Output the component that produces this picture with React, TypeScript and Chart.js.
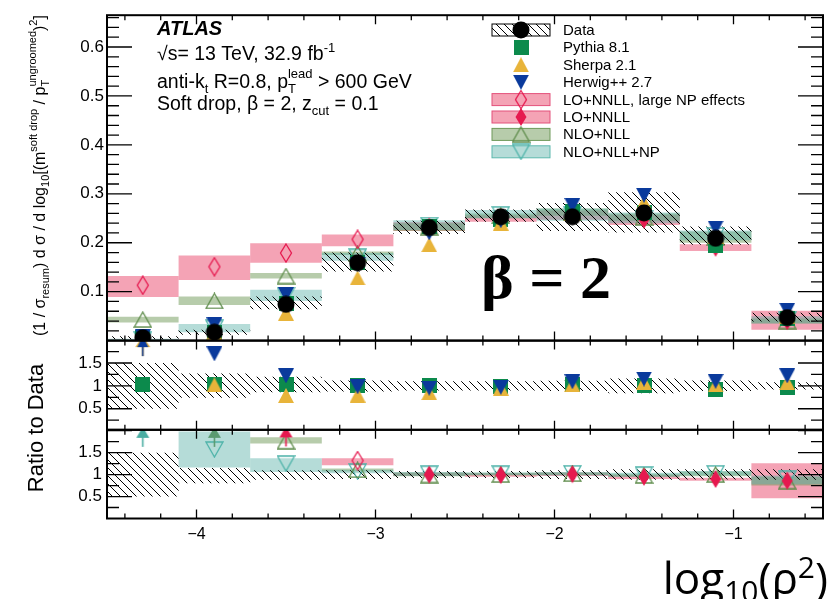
import React, { useEffect, useRef } from 'react';
import { Chart, registerables } from 'chart.js';

Chart.register(...registerables);

// ---------- data ----------
const binCenters = [-4.3, -3.9, -3.5, -3.1, -2.7, -2.3, -1.9, -1.5, -1.1, -0.7];
const xTickValues = [-4, -3, -2, -1];
const xTickLabels = ['\u22124', '\u22123', '\u22122', '\u22121'];
const topTickValues = [0.1, 0.2, 0.3, 0.4, 0.5, 0.6];
const topTickLabels = ['0.1', '0.2', '0.3', '0.4', '0.5', '0.6'];
const ratioTickValues = [0.5, 1, 1.5];
const ratioTickLabels = ['0.5', '1', '1.5'];

// top panel: normalised cross-section
const dataValues = [0.006, 0.017, 0.074, 0.159, 0.231, 0.253, 0.253, 0.261, 0.209, 0.047];
const dataBandLow = [0.003, 0.012, 0.064, 0.141, 0.218, 0.243, 0.224, 0.221, 0.196, 0.039];
const dataBandHigh = [0.009, 0.022, 0.09, 0.18, 0.245, 0.268, 0.281, 0.303, 0.233, 0.057];
const pythiaValues = [0.006, 0.017, 0.075, 0.159, 0.233, 0.248, 0.263, 0.261, 0.194, 0.045];
const sherpaValues = [0.008, 0.017, 0.056, 0.128, 0.196, 0.24, 0.26, 0.282, 0.213, 0.05];
const herwigValues = [0.008, 0.032, 0.094, 0.156, 0.22, 0.245, 0.276, 0.297, 0.23, 0.062];

const loNPValues = [0.113, 0.151, 0.179, 0.207, null, null, null, null, null, null];
const loNPLow = [0.089, 0.124, 0.159, 0.193, null, null, null, null, null, null];
const loNPHigh = [0.132, 0.174, 0.199, 0.217, null, null, null, null, null, null];
const loValues = [null, null, null, null, 0.233, 0.249, 0.256, 0.247, 0.19, 0.04];
const loLow = [null, null, null, null, 0.224, 0.243, 0.247, 0.236, 0.183, 0.022];
const loHigh = [null, null, null, null, 0.242, 0.256, 0.266, 0.257, 0.197, 0.061];
const nloValues = [0.043, 0.081, 0.132, 0.178, 0.232, 0.255, 0.262, 0.252, 0.211, 0.04];
const nloLow = [0.037, 0.073, 0.127, 0.175, 0.224, 0.25, 0.255, 0.245, 0.2, 0.035];
const nloHigh = [0.049, 0.09, 0.138, 0.182, 0.24, 0.26, 0.27, 0.26, 0.223, 0.045];
const nloNPValues = [0.002, 0.026, 0.093, 0.171, 0.236, 0.258, 0.258, 0.25, 0.215, 0.043];
const nloNPLow = [0.0, 0.017, 0.081, 0.163, 0.226, 0.25, 0.245, 0.24, 0.205, 0.035];
const nloNPHigh = [0.004, 0.034, 0.104, 0.179, 0.246, 0.267, 0.27, 0.262, 0.225, 0.05];

// middle panel: MC / data
const dataRatioLowMC = [0.5, 0.74, 0.86, 0.88, 0.9, 0.9, 0.89, 0.84, 0.89, 0.92];
const dataRatioHighMC = [1.5, 1.27, 1.2, 1.12, 1.1, 1.1, 1.11, 1.16, 1.12, 1.08];
const pythiaRatio = [1.03, 1.02, 1.02, 1.0, 1.01, 0.98, 1.04, 1.0, 0.93, 0.96];
const sherpaRatio = [1.87, 1.02, 0.79, 0.8, 0.85, 0.95, 1.03, 1.08, 1.02, 1.07];
const herwigRatio = [1.87, 1.7, 1.22, 0.98, 0.95, 0.97, 1.09, 1.15, 1.1, 1.22];

// bottom panel: theory / data
const dataRatioLowTh = [0.5, 0.8, 0.88, 0.9, 0.92, 0.92, 0.9, 0.88, 0.89, 0.88];
const dataRatioHighTh = [1.5, 1.15, 1.1, 1.1, 1.08, 1.08, 1.1, 1.12, 1.12, 1.12];
const loNPRatio = [null, null, 1.87, 1.32, null, null, null, null, null, null];
const loNPRatioLow = [null, null, null, 1.21, null, null, null, null, null, null];
const loNPRatioHigh = [null, null, null, 1.37, null, null, null, null, null, null];
const loRatio = [null, null, null, null, 1.0, 0.99, 1.01, 0.95, 0.9, 0.86];
const loRatioLow = [null, null, null, null, 0.97, 0.95, 0.97, 0.9, 0.86, 0.46];
const loRatioHigh = [null, null, null, null, 1.04, 1.03, 1.05, 0.99, 0.93, 1.26];
const nloRatio = [null, 1.86, 1.76, 1.11, 0.99, 1.0, 1.02, 0.98, 1.0, 0.85];
const nloRatioLow = [null, null, 1.71, 1.07, 0.96, 0.98, 0.99, 0.95, 0.96, 0.75];
const nloRatioHigh = [null, null, 1.85, 1.14, 1.05, 1.04, 1.05, 1.02, 1.07, 0.95];
const nloNPRatio = [1.86, 1.57, 1.25, 1.07, 1.02, 1.02, 1.03, 1.0, 1.03, 0.9];
const nloNPRatioLow = [null, 1.16, 1.06, 1.03, 0.97, 0.99, 0.98, 0.95, 0.98, 0.78];
const nloNPRatioHigh = [null, 1.98, 1.37, 1.11, 1.06, 1.05, 1.06, 1.04, 1.08, 0.98];

const legendLabels = ['Data', 'Pythia 8.1', 'Sherpa 2.1', 'Herwig++ 2.7', 'LO+NNLL, large NP effects', 'LO+NNLL', 'NLO+NLL', 'NLO+NLL+NP'];

// ---------- styles ----------
const SANS = '"Liberation Sans", Arial, Helvetica, sans-serif';
const C = {
  data: '#000000', pythia: '#0c8a4c', sherpa: '#e8b43a', herwig: '#0a3a9c',
  lo: '#e6194f', nlo: '#5e8c4b', nloNP: '#4db3a9',
  pinkBand: 'rgba(233,71,107,0.5)', greenBand: 'rgba(111,153,87,0.5)', tealBand: 'rgba(90,177,168,0.45)',
  pinkEdge: '#e4507a', greenEdge: '#6e9a5a', tealEdge: '#5db8ad',
};

function mk(w: number, h: number, draw: (g: CanvasRenderingContext2D) => void) {
  const c = document.createElement('canvas');
  c.width = w; c.height = h;
  const g = c.getContext('2d')!;
  draw(g);
  return c;
}

function makeMarkers() {
  const poly = (g: any, pts: number[][], fill: string | null, stroke: string | null, lw = 1.3) => {
    g.beginPath();
    g.moveTo(pts[0][0], pts[0][1]);
    for (let i = 1; i < pts.length; i++) g.lineTo(pts[i][0], pts[i][1]);
    g.closePath();
    if (fill) { g.fillStyle = fill; g.fill(); }
    if (stroke) { g.strokeStyle = stroke; g.lineWidth = lw; g.stroke(); }
  };
  const arrow = (color: string, w: number) => mk(w + 2, 22, (g) => {
    const cx = (w + 2) / 2;
    g.strokeStyle = color; g.lineWidth = 1.6;
    g.beginPath(); g.moveTo(cx, 9); g.lineTo(cx, 21); g.stroke();
    poly(g, [[cx, 1], [cx + w / 2, 12], [cx - w / 2, 12]], color, null);
  });
  return {
    circle: mk(18, 18, (g) => { g.fillStyle = C.data; g.beginPath(); g.arc(9, 9, 8.5, 0, Math.PI * 2); g.fill(); }),
    square: mk(15, 15, (g) => { g.fillStyle = C.pythia; g.fillRect(0, 0, 15, 15); }),
    triUp: mk(16, 15, (g) => poly(g, [[8, 0], [16, 15], [0, 15]], C.sherpa, null)),
    triDown: mk(16, 15, (g) => poly(g, [[0, 0], [16, 0], [8, 15]], C.herwig, null)),
    openDiamond: mk(14, 20, (g) => poly(g, [[7, 1], [12.5, 10], [7, 19], [1.5, 10]], null, C.lo)),
    fullDiamond: mk(14, 20, (g) => poly(g, [[7, 1], [12.5, 10], [7, 19], [1.5, 10]], C.lo, null)),
    openTriUp: mk(19, 17, (g) => poly(g, [[9.5, 1], [18, 16], [1, 16]], null, C.nlo)),
    openTriDown: mk(19, 17, (g) => poly(g, [[1, 1], [18, 1], [9.5, 16]], null, C.nloNP)),
    arrowSherpa: arrow(C.sherpa, 15),
    arrowHerwig: arrow(C.herwig, 11),
    arrowLo: arrow(C.lo, 13),
    arrowNlo: arrow('#5a9a70', 13),
    arrowNloNP: arrow('#4aada2', 13),
  };
}

function makeHatch(ctx: CanvasRenderingContext2D) {
  const s = 8;
  const c = mk(s, s, (g) => {
    g.strokeStyle = '#000'; g.lineWidth = 1;
    g.beginPath();
    g.moveTo(0, 0); g.lineTo(s, s);
    g.moveTo(-2, s - 2); g.lineTo(2, s + 2);
    g.moveTo(s - 2, -2); g.lineTo(s + 2, 2);
    g.stroke();
  });
  return ctx.createPattern(c, 'repeat')!;
}

type Part = { t: string; s: number; dy?: number; hold?: boolean; f?: string };
function drawRich(ctx: CanvasRenderingContext2D, x: number, y: number, parts: Part[], family: string) {
  let cx = x;
  let held = 0;
  for (const p of parts) {
    ctx.font = (p.f ? p.f + ' ' : '') + p.s + 'px ' + family;
    const w = ctx.measureText(p.t).width;
    ctx.fillText(p.t, cx, y + (p.dy || 0));
    if (p.hold) held = w;
    else { cx += Math.max(w, held); held = 0; }
  }
  return cx - x;
}
function measureRich(ctx: CanvasRenderingContext2D, parts: Part[], family: string) {
  let tot = 0; let held = 0;
  for (const p of parts) {
    ctx.font = (p.f ? p.f + ' ' : '') + p.s + 'px ' + family;
    const w = ctx.measureText(p.t).width;
    if (p.hold) held = w; else { tot += Math.max(w, held); held = 0; }
  }
  return tot;
}

function rangeData(lo: (number | null)[], hi: (number | null)[]) {
  const out: any[] = [];
  binCenters.forEach((c, i) => {
    if (lo[i] != null && hi[i] != null) out.push({ x: c, y: [lo[i], hi[i]] });
  });
  return out;
}
function pointData(v: (number | null)[]) {
  return binCenters.map((c, i) => ({ x: c, y: v[i] }));
}

export default function App() {
  const ref = useRef<HTMLCanvasElement>(null);

  useEffect(() => {
    const canvas = ref.current!;
    const ctx0 = canvas.getContext('2d')!;
    const M = makeMarkers();
    const hatch = makeHatch(ctx0);

    const band = (lo: any, hi: any, color: any, axis: string, order: number) => ({
      type: 'bar', yAxisID: axis, order, data: rangeData(lo, hi), backgroundColor: color,
      borderWidth: 0, barPercentage: 1, categoryPercentage: 1, grouped: false, inflateAmount: 0,
    });
    const pts = (vals: any, style: any, axis: string, order: number) => ({
      type: 'line', yAxisID: axis, order, showLine: false, data: pointData(vals),
      pointStyle: style, pointRadius: 8, pointHoverRadius: 8, borderWidth: 0,
    });
    const arrowOr = (normal: any, arrow: any) => (c: any) => (c.raw && c.raw.y >= 1.85 ? arrow : normal);

    const datasets: any[] = [
      // top panel
      band(loNPLow, loNPHigh, C.pinkBand, 'yTop', 24),
      band(loLow, loHigh, C.pinkBand, 'yTop', 24),
      band(nloLow, nloHigh, C.greenBand, 'yTop', 23),
      band(nloNPLow, nloNPHigh, C.tealBand, 'yTop', 22),
      band(dataBandLow, dataBandHigh, hatch, 'yTop', 10),
      pts(nloNPValues, M.openTriDown, 'yTop', 8),
      pts(nloValues, M.openTriUp, 'yTop', 7),
      pts(loNPValues, M.openDiamond, 'yTop', 6),
      pts(loValues, M.fullDiamond, 'yTop', 5),
      pts(pythiaValues, M.square, 'yTop', 3),
      pts(sherpaValues, M.triUp, 'yTop', 2),
      pts(herwigValues, M.triDown, 'yTop', 1),
      pts(dataValues, M.circle, 'yTop', 0),
      // middle panel
      band(dataRatioLowMC, dataRatioHighMC, hatch, 'yMid', 10),
      pts(pythiaRatio, M.square, 'yMid', 3),
      pts(sherpaRatio, arrowOr(M.triUp, M.arrowSherpa), 'yMid', 2),
      pts(herwigRatio, arrowOr(M.triDown, M.arrowHerwig), 'yMid', 1),
      // bottom panel
      band(loNPRatioLow, loNPRatioHigh, C.pinkBand, 'yBot', 24),
      band(loRatioLow, loRatioHigh, C.pinkBand, 'yBot', 24),
      band(nloRatioLow, nloRatioHigh, C.greenBand, 'yBot', 23),
      band(nloNPRatioLow, nloNPRatioHigh, C.tealBand, 'yBot', 22),
      band(dataRatioLowTh, dataRatioHighTh, hatch, 'yBot', 10),
      pts(nloNPRatio, arrowOr(M.openTriDown, M.arrowNloNP), 'yBot', 8),
      pts(nloRatio, arrowOr(M.openTriUp, M.arrowNlo), 'yBot', 7),
      pts(loNPRatio, arrowOr(M.openDiamond, M.arrowLo), 'yBot', 6),
      pts(loRatio, M.fullDiamond, 'yBot', 5),
    ];

    const tickFont = { size: 17, family: SANS };
    const yBase = (weight: number, stackWeight: number, min: number, max: number, values: number[], labels: string[], pad: number) => ({
      type: 'linear', position: 'left', stack: 'panels', stackWeight, weight, min, max,
      grid: { display: false, drawTicks: false }, border: { display: false },
      afterBuildTicks: (s: any) => { s.ticks = values.map((v) => ({ value: v })); },
      ticks: {
        color: '#000', font: tickFont, padding: pad, autoSkip: false,
        callback: (v: number) => { const i = values.indexOf(v); return i >= 0 ? labels[i] : ''; },
      },
      afterFit: (s: any) => { s.width = 107; },
    });

    const panelClip = {
      id: 'panelClip',
      beforeDatasetDraw(chart: any, args: any) {
        const s = chart.scales[args.meta.yAxisID];
        const a = chart.chartArea;
        chart.ctx.save();
        chart.ctx.beginPath();
        chart.ctx.rect(a.left, s.top, a.right - a.left, s.bottom - s.top);
        chart.ctx.clip();
      },
      afterDatasetDraw(chart: any) { chart.ctx.restore(); },
    };

    const decor = {
      id: 'decor',
      afterDraw(chart: any) {
        const ctx = chart.ctx as CanvasRenderingContext2D;
        const x = chart.scales.x;
        ctx.save();
        ctx.strokeStyle = '#000';
        // frames & ticks
        for (const id of ['yTop', 'yMid', 'yBot']) {
          const s = chart.scales[id];
          const L = x.left, R = x.right, T = s.top, B = s.bottom;
          ctx.lineWidth = 1.3;
          ctx.beginPath();
          for (let k = -22; k <= -3; k++) {
            const v = k / 5;
            const len = k % 5 === 0 ? 9 : 5;
            const px = x.getPixelForValue(v);
            ctx.moveTo(px, B); ctx.lineTo(px, B - len);
            ctx.moveTo(px, T); ctx.lineTo(px, T + len);
          }
          const step = id === 'yTop' ? 0.02 : 0.25;
          const every = id === 'yTop' ? 5 : 2;
          for (let k = 1; k * step < s.max; k++) {
            const v = k * step;
            if (v < s.min) continue;
            const len = k % every === 0 ? 25 : 12;
            const py = s.getPixelForValue(v);
            ctx.moveTo(L, py); ctx.lineTo(L + len, py);
            ctx.moveTo(R, py); ctx.lineTo(R - len, py);
          }
          ctx.stroke();
          ctx.lineWidth = 2;
          ctx.strokeRect(L, T, R - L, B - T);
        }

        ctx.fillStyle = '#000';
        ctx.textAlign = 'left';
        ctx.textBaseline = 'alphabetic';
        // ATLAS label block
        ctx.font = 'italic bold 20px ' + SANS;
        ctx.fillText('ATLAS', 157, 35);
        drawRich(ctx, 157, 60, [{ t: '\u221As= 13 TeV, 32.9 fb', s: 19.5 }, { t: '-1', s: 13, dy: -8 }], SANS);
        drawRich(ctx, 157, 88, [
          { t: 'anti-k', s: 19.5 }, { t: 't', s: 13, dy: 5 }, { t: ' R=0.8, p', s: 19.5 },
          { t: 'T', s: 13, dy: 5, hold: true }, { t: 'lead', s: 13, dy: -10 }, { t: ' > 600 GeV', s: 19.5 },
        ], SANS);
        drawRich(ctx, 157, 110, [
          { t: 'Soft drop, \u03B2 = 2, z', s: 19.5 }, { t: 'cut', s: 13, dy: 5 }, { t: ' = 0.1', s: 19.5 },
        ], SANS);

        // beta = 2
        ctx.font = 'bold 62px "Liberation Serif", "Times New Roman", serif';
        ctx.fillText('\u03B2 = 2', 481, 298);

        // legend
        const lx0 = 492, lw = 58, mx = 521, tx = 563;
        legendLabels.forEach((lab, i) => {
          const base = 35 + i * 17.4;
          const cy = base - 5;
          if (i === 0) {
            ctx.fillStyle = hatch; ctx.fillRect(lx0, cy - 6, lw, 12);
            ctx.lineWidth = 1; ctx.strokeStyle = '#000'; ctx.strokeRect(lx0, cy - 6, lw, 12);
          } else if (i >= 4) {
            const fills = [C.pinkBand, C.pinkBand, C.greenBand, C.tealBand];
            const edges = [C.pinkEdge, C.pinkEdge, C.greenEdge, C.tealEdge];
            ctx.fillStyle = fills[i - 4]; ctx.fillRect(lx0, cy - 6, lw, 12);
            ctx.lineWidth = 1; ctx.strokeStyle = edges[i - 4]; ctx.strokeRect(lx0, cy - 6, lw, 12);
          }
          const mks = [M.circle, M.square, M.triUp, M.triDown, M.openDiamond, M.fullDiamond, M.openTriUp, M.openTriDown];
          const m = mks[i];
          ctx.drawImage(m, mx - m.width / 2, cy - m.height / 2);
          ctx.fillStyle = '#000';
          ctx.font = '15px ' + SANS;
          ctx.fillText(lab, tx, base);
        });

        // y title (top panel)
        const yParts: Part[] = [
          { t: '(1 / \u03C3', s: 16 }, { t: 'resum', s: 11, dy: 4 }, { t: ') d \u03C3 / d log', s: 16 },
          { t: '10', s: 11, dy: 4 }, { t: '[(m', s: 16 }, { t: 'soft drop', s: 11, dy: -8 },
          { t: ' / p', s: 16 }, { t: 'T', s: 11, dy: 4, hold: true }, { t: 'ungroomed', s: 11, dy: -9 },
          { t: ')', s: 16 }, { t: '2', s: 11, dy: -8 }, { t: ']', s: 16 },
        ];
        ctx.save();
        ctx.translate(45, 336);
        ctx.rotate(-Math.PI / 2);
        drawRich(ctx, 0, 0, yParts, SANS);
        ctx.restore();

        // Ratio to Data
        ctx.save();
        ctx.translate(43, 428);
        ctx.rotate(-Math.PI / 2);
        ctx.font = '22px ' + SANS;
        ctx.textAlign = 'center';
        ctx.fillText('Ratio to Data', 0, 0);
        ctx.restore();

        // x title
        const xParts: Part[] = [
          { t: 'log', s: 44 }, { t: '10', s: 30, dy: 8 }, { t: '(\u03C1', s: 44 }, { t: '2', s: 30, dy: -16 }, { t: ')', s: 44 },
        ];
        const fam = '"Open Sans", "Noto Sans", sans-serif';
        const wx = measureRich(ctx, xParts, fam);
        ctx.textAlign = 'left';
        drawRich(ctx, 828 - wx, 594, xParts, fam);
        ctx.restore();
      },
    };

    const chart = new Chart(canvas, {
      type: 'bar',
      data: { datasets },
      options: {
        responsive: false,
        animation: false,
        events: [],
        layout: { padding: { top: 5, right: 2, bottom: 0, left: 0 } },
        plugins: { legend: { display: false }, tooltip: { enabled: false } },
        scales: {
          x: {
            type: 'linear', min: -4.5, max: -0.5, offset: false,
            grid: { display: false, drawTicks: false, offset: false }, border: { display: false },
            afterBuildTicks: (s: any) => { s.ticks = xTickValues.map((v) => ({ value: v })); },
            ticks: {
              color: '#000', font: { size: 16, family: SANS }, padding: 6, autoSkip: false, maxRotation: 0,
              callback: (v: number) => { const i = xTickValues.indexOf(v); return i >= 0 ? xTickLabels[i] : ''; },
            },
            afterFit: (s: any) => { s.height = 80.5; },
          },
          yTop: yBase(3, 332, 0, 0.665, topTickValues, topTickLabels, 3),
          yMid: yBase(2, 91, 0.04, 1.99, ratioTickValues, ratioTickLabels, 5),
          yBot: yBase(1, 90.5, 0, 2.02, ratioTickValues, ratioTickLabels, 5),
        } as any,
      },
      plugins: [panelClip, decor],
    } as any);

    return () => chart.destroy();
  }, []);

  return (
    <div style={{ position: 'fixed', left: 0, top: 0, width: 831, height: 599, background: '#fff' }}>
      <canvas ref={ref} width={831} height={599} style={{ display: 'block', width: 831, height: 599 }} />
    </div>
  );
}
